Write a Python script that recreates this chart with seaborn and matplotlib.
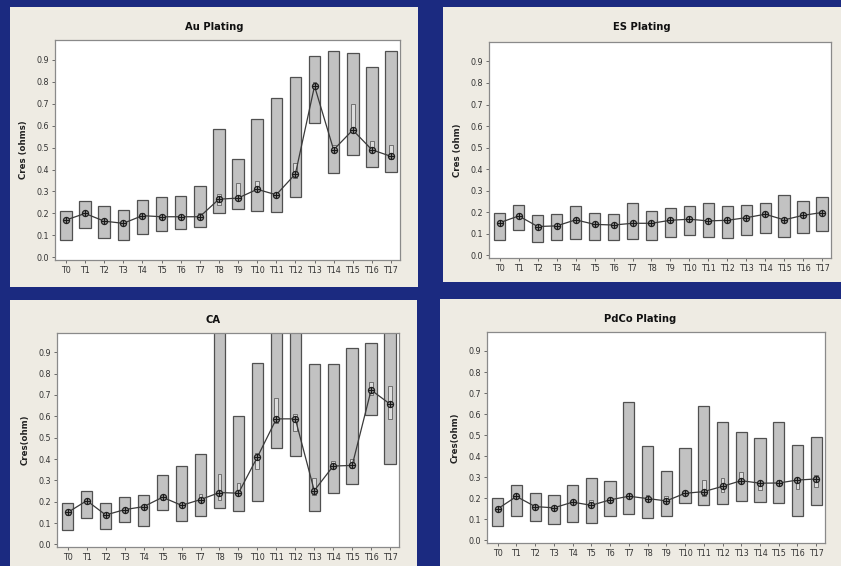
import numpy as np
import pandas as pd
import matplotlib
matplotlib.use("Agg")
import matplotlib.pyplot as plt
import seaborn as sns

# ---- data -------------------------------------------------------------
times = [f"T{i}" for i in range(18)]

au_lo = [0.08, 0.135, 0.09, 0.08, 0.105, 0.12, 0.13, 0.14, 0.20, 0.22, 0.21, 0.205, 0.275, 0.61, 0.385, 0.465, 0.41, 0.39]
au_hi = [0.21, 0.255, 0.235, 0.215, 0.26, 0.275, 0.28, 0.325, 0.585, 0.45, 0.63, 0.725, 0.82, 0.915, 0.94, 0.93, 0.865, 0.94]
au_mean = [0.17, 0.20, 0.165, 0.155, 0.19, 0.185, 0.185, 0.185, 0.265, 0.27, 0.31, 0.285, 0.38, 0.78, 0.49, 0.58, 0.49, 0.46]
au_q1 = [0.165, 0.195, 0.16, 0.15, 0.18, 0.175, 0.18, 0.18, 0.24, 0.26, 0.30, 0.28, 0.36, 0.77, 0.48, 0.57, 0.48, 0.45]
au_q3 = [0.175, 0.205, 0.17, 0.16, 0.20, 0.195, 0.195, 0.20, 0.29, 0.34, 0.35, 0.295, 0.43, 0.80, 0.51, 0.70, 0.53, 0.51]

es_lo = [0.07, 0.117, 0.064, 0.07, 0.075, 0.07, 0.07, 0.075, 0.07, 0.087, 0.093, 0.084, 0.081, 0.093, 0.106, 0.087, 0.102, 0.113]
es_hi = [0.195, 0.233, 0.188, 0.194, 0.23, 0.199, 0.194, 0.245, 0.207, 0.222, 0.23, 0.245, 0.23, 0.233, 0.245, 0.281, 0.253, 0.269]
es_mean = [0.152, 0.183, 0.134, 0.137, 0.165, 0.144, 0.141, 0.149, 0.149, 0.163, 0.168, 0.16, 0.163, 0.175, 0.191, 0.165, 0.186, 0.199]
es_q1 = [0.145, 0.176, 0.127, 0.130, 0.158, 0.138, 0.135, 0.143, 0.143, 0.156, 0.161, 0.153, 0.156, 0.168, 0.183, 0.158, 0.178, 0.192]
es_q3 = [0.159, 0.190, 0.141, 0.144, 0.172, 0.150, 0.147, 0.155, 0.155, 0.170, 0.175, 0.167, 0.170, 0.182, 0.199, 0.172, 0.194, 0.206]

ca_lo = [0.067, 0.124, 0.074, 0.103, 0.085, 0.163, 0.111, 0.135, 0.171, 0.155, 0.205, 0.453, 0.412, 0.155, 0.241, 0.284, 0.605, 0.375]
ca_hi = [0.193, 0.252, 0.195, 0.221, 0.232, 0.323, 0.367, 0.425, 1.05, 0.603, 0.851, 1.05, 1.10, 0.845, 0.845, 0.922, 0.942, 1.05]
ca_mean = [0.15, 0.205, 0.138, 0.163, 0.177, 0.221, 0.183, 0.21, 0.243, 0.24, 0.409, 0.588, 0.588, 0.252, 0.367, 0.37, 0.723, 0.657]
ca_q1 = [0.14, 0.195, 0.13, 0.155, 0.17, 0.21, 0.175, 0.20, 0.21, 0.235, 0.355, 0.57, 0.53, 0.23, 0.36, 0.36, 0.70, 0.585]
ca_q3 = [0.155, 0.21, 0.145, 0.17, 0.185, 0.225, 0.19, 0.235, 0.33, 0.29, 0.43, 0.685, 0.61, 0.31, 0.39, 0.40, 0.76, 0.74]

pd_lo = [0.068, 0.117, 0.092, 0.079, 0.088, 0.082, 0.117, 0.126, 0.107, 0.117, 0.177, 0.169, 0.174, 0.186, 0.183, 0.178, 0.118, 0.169]
pd_hi = [0.20, 0.264, 0.226, 0.216, 0.264, 0.295, 0.283, 0.656, 0.45, 0.33, 0.441, 0.64, 0.561, 0.517, 0.485, 0.561, 0.455, 0.493]
pd_mean = [0.15, 0.209, 0.161, 0.155, 0.182, 0.167, 0.193, 0.21, 0.199, 0.188, 0.224, 0.232, 0.257, 0.284, 0.272, 0.273, 0.287, 0.292]
pd_q1 = [0.145, 0.20, 0.155, 0.15, 0.175, 0.16, 0.185, 0.20, 0.19, 0.18, 0.215, 0.21, 0.23, 0.28, 0.24, 0.265, 0.245, 0.255]
pd_q3 = [0.155, 0.215, 0.165, 0.16, 0.19, 0.19, 0.20, 0.22, 0.215, 0.21, 0.235, 0.285, 0.295, 0.325, 0.28, 0.285, 0.29, 0.31]

y_ticks = [0.0, 0.1, 0.2, 0.3, 0.4, 0.5, 0.6, 0.7, 0.8, 0.9]

panels = [
    ("Au Plating", "Cres (ohms)", au_lo, au_hi, au_mean, au_q1, au_q3),
    ("ES Plating", "Cres (ohm)", es_lo, es_hi, es_mean, es_q1, es_q3),
    ("CA", "Cres(ohm)", ca_lo, ca_hi, ca_mean, ca_q1, ca_q3),
    ("PdCo Plating", "Cres(ohm)", pd_lo, pd_hi, pd_mean, pd_q1, pd_q3),
]

# ---- layout (pixels: left, top, right, bottom) --------------------------
W, H = 841, 566
card_px = [(10, 7, 418, 287), (443, 7, 841, 282), (10, 300, 417, 566), (440, 299, 841, 566)]
plot_px = [(55, 40, 400, 260), (489, 42, 831, 258), (57, 333, 399, 547), (487, 332, 825, 543)]

NAVY = "#1b2a80"
CARD = "#eeebe3"
BAR = "#c2c2c2"
EDGE = "#505050"
INK = "#333333"

sns.set_theme(style="white")
plt.rcParams["font.family"] = ["DejaVu Sans"]

fig = plt.figure(figsize=(W / 100, H / 100), dpi=100)
fig.patch.set_facecolor(NAVY)


def frac(box):
    l, t, r, b = box
    return [l / W, 1 - b / H, (r - l) / W, (b - t) / H]


for (title, ylab, lo, hi, mean, q1, q3), cbox, pbox in zip(panels, card_px, plot_px):
    # beige card behind each chart
    card = fig.add_axes(frac(cbox))
    card.set_facecolor(CARD)
    card.set_xticks([])
    card.set_yticks([])
    for s in card.spines.values():
        s.set_visible(False)
    card.text(0.5, 1 - 20 / (cbox[3] - cbox[1]), title, transform=card.transAxes,
              ha="center", va="center", fontsize=7.2, fontweight="bold", color="#111111")

    ax = fig.add_axes(frac(pbox))
    ax.set_facecolor("white")
    df = pd.DataFrame({"time": times, "lo": lo, "hi": hi, "mean": mean, "q1": q1, "q3": q3})
    pos = np.arange(len(df))

    # min-max range boxes
    ax.bar(pos, df["hi"] - df["lo"], bottom=df["lo"], width=0.6,
           color=BAR, edgecolor=EDGE, linewidth=0.9, zorder=2)
    # interquartile boxes
    ax.bar(pos, df["q3"] - df["q1"], bottom=df["q1"], width=0.2,
           color="#dcdcdc", edgecolor="#606060", linewidth=0.6, zorder=3)
    # mean line with markers
    sns.lineplot(x=pos, y=df["mean"].to_numpy(), ax=ax, color="#3a3a3a", linewidth=0.9,
                 marker="o", markersize=4.4, markerfacecolor="#9a9a9a",
                 markeredgecolor="#222222", markeredgewidth=0.9, zorder=4)
    sns.scatterplot(x=pos, y=df["mean"].to_numpy(), ax=ax, marker="+", s=24,
                    color="#1a1a1a", linewidth=0.8, zorder=5)

    ax.set_xlim(-0.57, 17.47)
    ax.set_ylim(-0.012, 0.99)
    ax.set_xticks(pos)
    ax.set_xticklabels(df["time"])
    ax.set_yticks(y_ticks)
    ax.set_yticklabels([f"{v:.1f}" for v in y_ticks])
    ax.tick_params(axis="both", which="both", direction="out", length=2.5, width=0.6,
                   color="#555555", labelsize=5.8, labelcolor=INK, pad=2,
                   bottom=True, left=True)
    ax.set_xlabel("")
    ax.set_ylabel(ylab, fontsize=6.2, fontweight="bold", color="#222222", labelpad=6)
    for s in ax.spines.values():
        s.set_visible(True)
        s.set_color("#8a8a8a")
        s.set_linewidth(0.9)

fig.savefig("out.png", dpi=100, facecolor=fig.get_facecolor())
